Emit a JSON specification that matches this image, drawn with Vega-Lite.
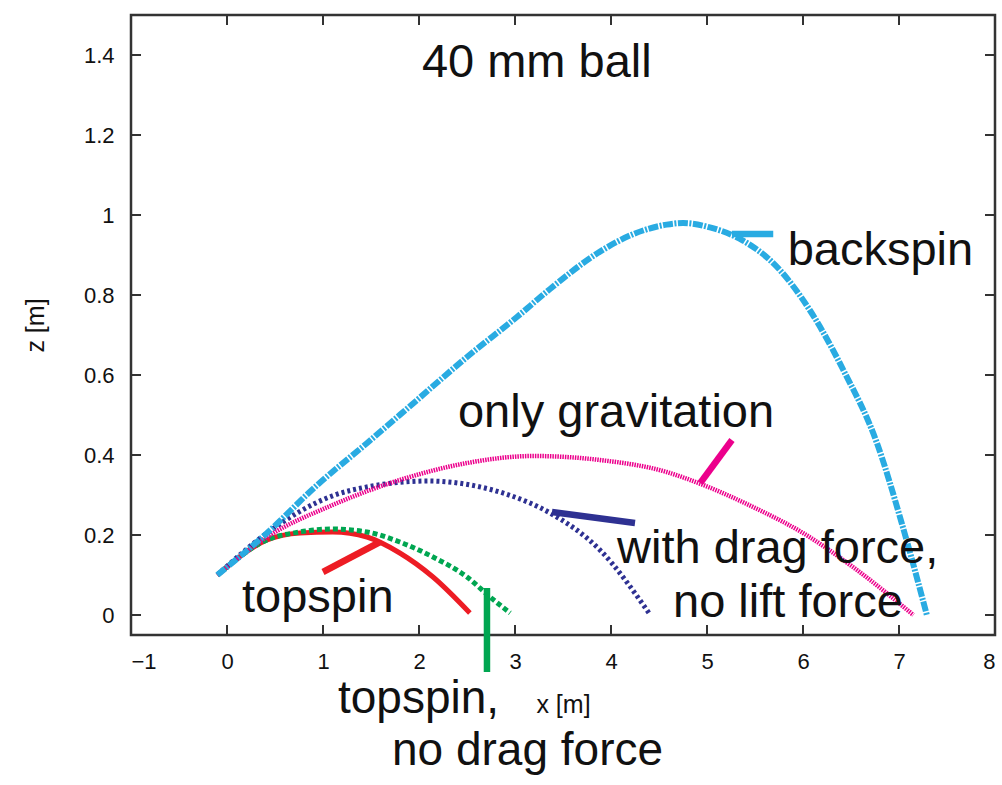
{
  "$schema": "https://vega.github.io/schema/vega-lite/v6.json",
  "width": 864,
  "height": 620,
  "autosize": {"type": "none"},
  "padding": {"left": 131, "top": 15, "right": 7, "bottom": 150},
  "background": "white",
  "config": {
    "view": {"stroke": "#333333", "strokeWidth": 2.5},
    "font": "Liberation Sans",
    "axis": {"grid": false, "domain": false, "ticks": false, "labelColor": "#111111", "titleColor": "#111111", "titleFontWeight": "normal"}
  },
  "datasets": {
    "curves": [
      {"series": "backspin", "x": -0.1, "y": 0.1},
      {"series": "backspin", "x": 0.417, "y": 0.205},
      {"series": "backspin", "x": 0.94, "y": 0.325},
      {"series": "backspin", "x": 1.46, "y": 0.43},
      {"series": "backspin", "x": 1.98, "y": 0.5375},
      {"series": "backspin", "x": 2.5, "y": 0.645},
      {"series": "backspin", "x": 3.02, "y": 0.745},
      {"series": "backspin", "x": 3.365, "y": 0.815},
      {"series": "backspin", "x": 3.885, "y": 0.9085},
      {"series": "backspin", "x": 4.23, "y": 0.952},
      {"series": "backspin", "x": 4.58, "y": 0.976},
      {"series": "backspin", "x": 4.75, "y": 0.98},
      {"series": "backspin", "x": 5.03, "y": 0.969},
      {"series": "backspin", "x": 5.375, "y": 0.936},
      {"series": "backspin", "x": 5.73, "y": 0.87},
      {"series": "backspin", "x": 6.07, "y": 0.7625},
      {"series": "backspin", "x": 6.42, "y": 0.6125},
      {"series": "backspin", "x": 6.77, "y": 0.43},
      {"series": "backspin", "x": 7.04, "y": 0.22},
      {"series": "backspin", "x": 7.29, "y": 0.0},
      {"series": "gravitation", "x": -0.1, "y": 0.1},
      {"series": "gravitation", "x": 0.417, "y": 0.195},
      {"series": "gravitation", "x": 1.1, "y": 0.275},
      {"series": "gravitation", "x": 1.8, "y": 0.3375},
      {"series": "gravitation", "x": 2.5, "y": 0.38},
      {"series": "gravitation", "x": 3.19, "y": 0.3975},
      {"series": "gravitation", "x": 3.885, "y": 0.3875},
      {"series": "gravitation", "x": 4.58, "y": 0.3575},
      {"series": "gravitation", "x": 4.93, "y": 0.328},
      {"series": "gravitation", "x": 5.48, "y": 0.27},
      {"series": "gravitation", "x": 6.0, "y": 0.205},
      {"series": "gravitation", "x": 6.52, "y": 0.12},
      {"series": "gravitation", "x": 7.15, "y": 0.0},
      {"series": "drag", "x": -0.1, "y": 0.1},
      {"series": "drag", "x": 0.417, "y": 0.205},
      {"series": "drag", "x": 1.1, "y": 0.298},
      {"series": "drag", "x": 1.5, "y": 0.322},
      {"series": "drag", "x": 2.1, "y": 0.335},
      {"series": "drag", "x": 2.6, "y": 0.322},
      {"series": "drag", "x": 2.9, "y": 0.303},
      {"series": "drag", "x": 3.365, "y": 0.255},
      {"series": "drag", "x": 3.885, "y": 0.1625},
      {"series": "drag", "x": 4.41, "y": 0.0},
      {"series": "topspin", "x": -0.1, "y": 0.1},
      {"series": "topspin", "x": 0.417, "y": 0.1875},
      {"series": "topspin", "x": 0.76, "y": 0.205},
      {"series": "topspin", "x": 1.1, "y": 0.2075},
      {"series": "topspin", "x": 1.458, "y": 0.195},
      {"series": "topspin", "x": 1.8, "y": 0.155},
      {"series": "topspin", "x": 2.146, "y": 0.095},
      {"series": "topspin", "x": 2.53, "y": 0.005},
      {"series": "nodrag", "x": -0.1, "y": 0.1},
      {"series": "nodrag", "x": 0.417, "y": 0.1875},
      {"series": "nodrag", "x": 0.76, "y": 0.2075},
      {"series": "nodrag", "x": 1.1, "y": 0.215},
      {"series": "nodrag", "x": 1.458, "y": 0.2075},
      {"series": "nodrag", "x": 1.8, "y": 0.1825},
      {"series": "nodrag", "x": 2.146, "y": 0.145},
      {"series": "nodrag", "x": 2.5, "y": 0.095},
      {"series": "nodrag", "x": 2.74, "y": 0.045},
      {"series": "nodrag", "x": 2.95, "y": 0.005}
    ],
    "pointers": [
      {"id": "p1", "series": "backspin", "x": 5.26, "y": 0.9525},
      {"id": "p1", "series": "backspin", "x": 5.69, "y": 0.9525},
      {"id": "p2", "series": "gravitation", "x": 5.26, "y": 0.4375},
      {"id": "p2", "series": "gravitation", "x": 4.93, "y": 0.33},
      {"id": "p3", "series": "drag", "x": 3.385, "y": 0.2575},
      {"id": "p3", "series": "drag", "x": 4.25, "y": 0.23},
      {"id": "p4", "series": "topspin", "x": 1.0, "y": 0.1075},
      {"id": "p4", "series": "topspin", "x": 1.594, "y": 0.1825},
      {"id": "p5", "series": "nodrag", "x": 2.708, "y": 0.0675},
      {"id": "p5", "series": "nodrag", "x": 2.708, "y": -0.1425}
    ],
    "labels": [
      {"label": "40 mm ball", "x": 2.03, "y": 1.345},
      {"label": "backspin", "x": 5.84, "y": 0.875},
      {"label": "only gravitation", "x": 2.406, "y": 0.47},
      {"label": "with drag force,", "x": 4.0625, "y": 0.13},
      {"label": "no lift force", "x": 4.646, "y": -0.005},
      {"label": "topspin", "x": 0.156, "y": 0.0075}
    ],
    "labels2": [
      {"label": "topspin,", "x": 1.156, "y": -0.245},
      {"label": "no drag force", "x": 1.719, "y": -0.375}
    ],
    "xticks": [{"v": 0}, {"v": 1}, {"v": 2}, {"v": 3}, {"v": 4}, {"v": 5}, {"v": 6}, {"v": 7}],
    "bticks": [{"t": 0}, {"t": 1}, {"t": 2}, {"t": 3}, {"t": 4}, {"t": 5}, {"t": 6}, {"t": 7}],
    "yticks": [{"v": 0}, {"v": 0.2}, {"v": 0.4}, {"v": 0.6}, {"v": 0.8}, {"v": 1}, {"v": 1.2}, {"v": 1.4}]
  },
  "resolve": {"axis": {"x": "independent", "y": "independent"}},
  "layer": [
    {
      "data": {"name": "curves"},
      "transform": [{"filter": "datum.series === 'topspin'"}],
      "mark": {"type": "line", "strokeWidth": 5, "strokeCap": "butt", "interpolate": "monotone"},
      "encoding": {
        "x": {"field": "x", "type": "quantitative", "scale": {"domain": [-1, 8], "nice": false, "zero": false},
          "axis": {"orient": "bottom", "values": [-1, 0, 1, 2, 3, 4, 5, 6, 7, 8], "format": "d", "labelPadding": 16, "labelFontSize": 22, "title": "x [m]", "titleFontSize": 25, "titleX": 432, "titleY": 77, "titleBaseline": "alphabetic", "titleAnchor": null}},
        "y": {"field": "y", "type": "quantitative", "scale": {"domain": [-0.05, 1.5], "nice": false, "zero": false},
          "axis": {"orient": "left", "values": [0, 0.2, 0.4, 0.6, 0.8, 1, 1.2, 1.4], "format": "~g", "labelPadding": 17, "labelFontSize": 22, "title": "z [m]", "titleFontSize": 25, "titleX": -96, "titleY": 310, "titleBaseline": "middle", "titleAngle": -90, "titleAnchor": null}},
        "color": {"field": "series", "type": "nominal", "scale": {"domain": ["backspin", "gravitation", "drag", "topspin", "nodrag"], "range": ["#29abe2", "#ec008c", "#2e3192", "#ed1c24", "#00a651"]}, "legend": null}
      }
    },
    {
      "data": {"name": "curves"},
      "transform": [{"filter": "datum.series === 'nodrag'"}],
      "mark": {"type": "line", "strokeWidth": 5, "strokeDash": [5, 3], "strokeCap": "butt", "interpolate": "monotone"},
      "encoding": {
        "x": {"field": "x", "type": "quantitative", "axis": null},
        "y": {"field": "y", "type": "quantitative", "axis": null},
        "color": {"field": "series", "type": "nominal", "legend": null}
      }
    },
    {
      "data": {"name": "curves"},
      "transform": [{"filter": "datum.series === 'drag'"}],
      "mark": {"type": "line", "strokeWidth": 5, "strokeDash": [3, 3], "strokeCap": "butt", "interpolate": "monotone"},
      "encoding": {
        "x": {"field": "x", "type": "quantitative", "axis": null},
        "y": {"field": "y", "type": "quantitative", "axis": null},
        "color": {"field": "series", "type": "nominal", "legend": null}
      }
    },
    {
      "data": {"name": "curves"},
      "transform": [{"filter": "datum.series === 'gravitation'"}],
      "mark": {"type": "line", "strokeWidth": 4.5, "strokeDash": [1.5, 1], "strokeCap": "butt", "interpolate": "monotone"},
      "encoding": {
        "x": {"field": "x", "type": "quantitative", "axis": null},
        "y": {"field": "y", "type": "quantitative", "axis": null},
        "color": {"field": "series", "type": "nominal", "legend": null}
      }
    },
    {
      "data": {"name": "curves"},
      "transform": [{"filter": "datum.series === 'backspin'"}],
      "mark": {"type": "line", "strokeWidth": 6, "strokeDash": [10, 1.5, 2, 1.5], "strokeCap": "butt", "interpolate": "monotone"},
      "encoding": {
        "x": {"field": "x", "type": "quantitative", "axis": null},
        "y": {"field": "y", "type": "quantitative", "axis": null},
        "color": {"field": "series", "type": "nominal", "legend": null}
      }
    },
    {
      "data": {"name": "pointers"},
      "mark": {"type": "line", "strokeWidth": 6.5, "strokeCap": "butt"},
      "encoding": {
        "x": {"field": "x", "type": "quantitative", "axis": null},
        "y": {"field": "y", "type": "quantitative", "axis": null},
        "detail": {"field": "id"},
        "order": {"field": "y", "type": "quantitative"},
        "color": {"field": "series", "type": "nominal", "legend": null}
      }
    },
    {
      "data": {"name": "bticks"},
      "mark": {"type": "tick", "orient": "vertical", "size": 10, "thickness": 2, "color": "#333333", "opacity": 1},
      "encoding": {
        "x": {"field": "t", "type": "quantitative", "axis": null},
        "y": {"datum": -0.0375, "type": "quantitative", "axis": null}
      }
    },
    {
      "data": {"name": "xticks"},
      "mark": {"type": "rule", "color": "#333333", "strokeWidth": 2},
      "encoding": {
        "x": {"field": "v", "type": "quantitative", "axis": null},
        "y": {"datum": 1.5, "type": "quantitative", "axis": null},
        "y2": {"datum": 1.475}
      }
    },
    {
      "data": {"name": "yticks"},
      "mark": {"type": "rule", "color": "#333333", "strokeWidth": 2},
      "encoding": {
        "y": {"field": "v", "type": "quantitative", "axis": null},
        "x": {"datum": -1, "type": "quantitative", "axis": null},
        "x2": {"datum": -0.896}
      }
    },
    {
      "data": {"name": "yticks"},
      "mark": {"type": "rule", "color": "#333333", "strokeWidth": 2},
      "encoding": {
        "y": {"field": "v", "type": "quantitative", "axis": null},
        "x": {"datum": 8, "type": "quantitative", "axis": null},
        "x2": {"datum": 7.896}
      }
    },
    {
      "data": {"name": "labels"},
      "mark": {"type": "text", "align": "left", "baseline": "alphabetic", "fontSize": 47, "color": "#111111", "font": "Liberation Sans"},
      "encoding": {
        "x": {"field": "x", "type": "quantitative", "axis": null},
        "y": {"field": "y", "type": "quantitative", "axis": null},
        "text": {"field": "label"}
      }
    },
    {
      "data": {"name": "labels2"},
      "mark": {"type": "text", "align": "left", "baseline": "alphabetic", "fontSize": 46, "color": "#111111", "font": "Liberation Sans"},
      "encoding": {
        "x": {"field": "x", "type": "quantitative", "axis": null},
        "y": {"field": "y", "type": "quantitative", "axis": null},
        "text": {"field": "label"}
      }
    }
  ]
}
